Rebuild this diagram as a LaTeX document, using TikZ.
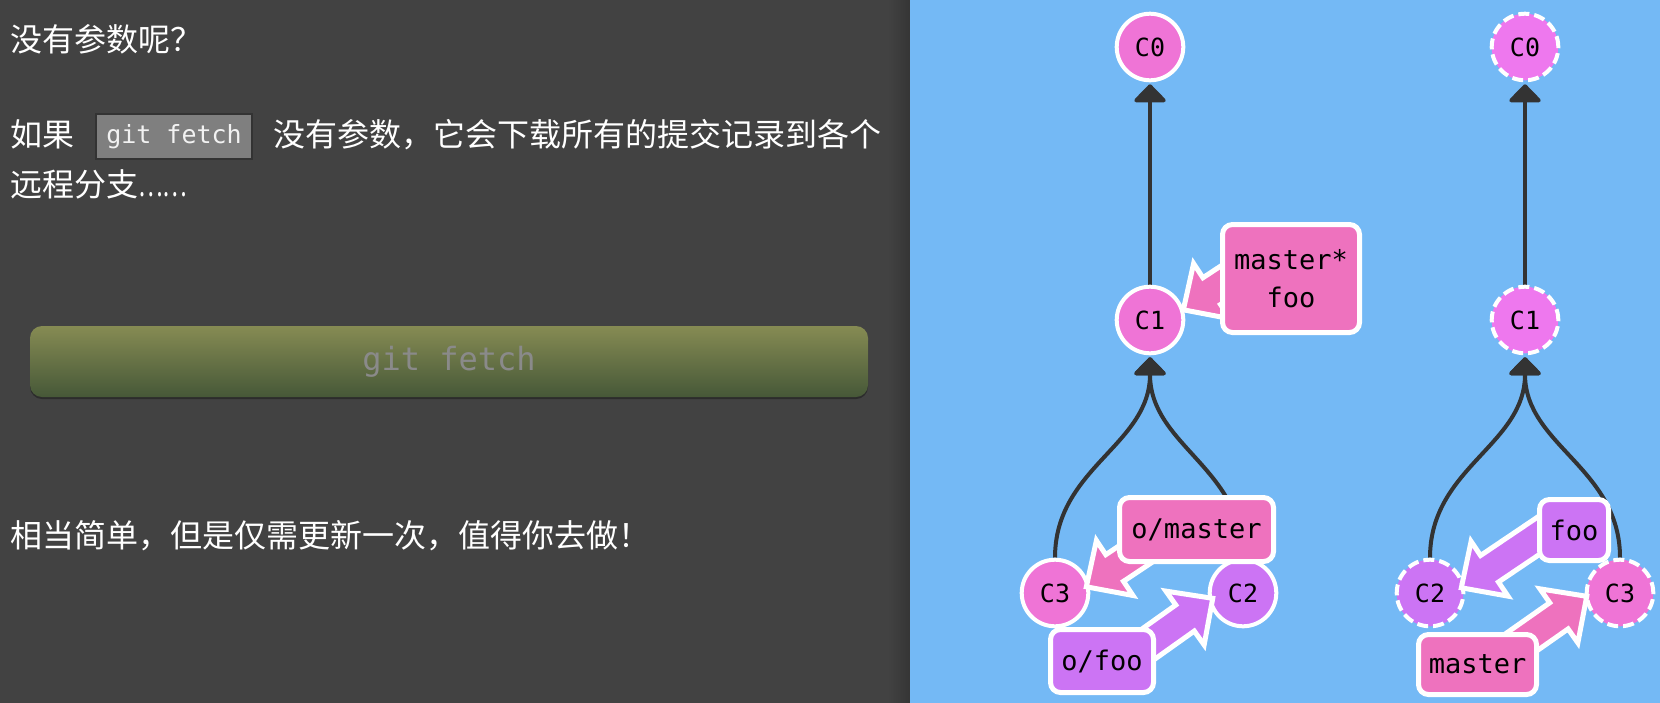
\documentclass[tikz,border=0pt]{standalone}
\usepackage{graphicx}
\usepackage{fontspec}
\setmainfont{Noto Sans CJK SC}
\newfontfamily\monofont{DejaVu Sans Mono}
\usetikzlibrary{calc,arrows.meta}
\definecolor{darkbg}{HTML}{424242}
\definecolor{darkedge}{HTML}{353535}
\definecolor{bluebg}{HTML}{74B9F5}
\definecolor{cpink}{HTML}{EF74D6}
\definecolor{cviolet}{HTML}{EE78EE}
\definecolor{bpink}{HTML}{EE72BE}
\definecolor{cpurple}{HTML}{CC74F4}
\definecolor{edgec}{HTML}{333333}
\definecolor{codefill}{HTML}{7F7F7F}
\definecolor{btntop}{HTML}{868B53}
\definecolor{btnbot}{HTML}{465838}
\definecolor{btntext}{HTML}{8A8A8A}
\definecolor{btnshadow}{HTML}{2C2C2C}
\pgfdeclarelayer{edgelayer}
\pgfdeclarelayer{arrowlayer}
\pgfdeclarelayer{frontlayer}
\pgfsetlayers{edgelayer,main,arrowlayer,frontlayer}
\tikzset{
  cntext/.style={anchor=base west, inner sep=0pt, text=white, font=\fontsize{32}{38}\selectfont},
  codebox/.style={fill=codefill, draw=edgec, line width=2pt, minimum width=156pt, minimum height=45pt, inner sep=0pt, text=white!95!black, font=\monofont\fontsize{25}{25}\selectfont},
  button/.style={rounded corners=12pt, top color=btntop, bottom color=btnbot, minimum width=838pt, minimum height=71pt, inner sep=0pt, text=btntext, font=\monofont\fontsize{32}{32}\selectfont},
  commit/.style={circle, draw=white, line width=4pt, inner sep=0pt, minimum size=66.6pt, text=black, font=\monofont\fontsize{25}{25}\selectfont},
  dashedcommit/.style={commit, dash pattern=on 11pt off 5pt},
  branch/.style={rectangle, rounded corners=10pt, draw=white, line width=5pt, inner sep=0pt, align=center, text=black, font=\monofont\fontsize{27}{38}\selectfont},
  edge/.style={draw=edgec, line width=4pt, shorten >=2pt, -{Triangle[width=36pt,length=19pt,round]}},
  barrow/.style={draw=white, line width=5pt, line join=miter},
}
\newcommand\blockarrow[3]{%
  \coordinate (ba-t) at ($(#2)!4pt!(#1)$);
  \coordinate (ba-b) at ($(ba-t)!34pt!(#1)$);
  \filldraw[barrow, fill=#3] (ba-t)
    -- ($(ba-b)!33pt!90:(ba-t)$) -- ($(ba-b)!16pt!90:(ba-t)$)
    -- ($(#1)!16pt!90:(ba-t)$) -- ($(#1)!16pt!-90:(ba-t)$)
    -- ($(ba-b)!16pt!-90:(ba-t)$) -- ($(ba-b)!33pt!-90:(ba-t)$) -- cycle;}
\begin{document}
\begin{tikzpicture}[x=1pt,y=-1pt]
\useasboundingbox (0,0) rectangle (1660,702);
\begin{pgfonlayer}{edgelayer}
  \fill[darkbg] (-2,-2) rectangle (910,704);
  \shade[left color=darkbg, right color=darkedge] (888,-4) rectangle (910,706);
  \fill[bluebg] (910,-2) rectangle (1662,704);
  \fill[btnshadow, rounded corners=12pt] (30,329) rectangle (868,399);
\end{pgfonlayer}

% left panel texts
\node[cntext] (t1) at (10,51) {没有参数呢？};
\node[cntext] (t2a) at (10,146) {如果};
\node[codebox] (code) at (174,136.5) {git fetch};
\node[cntext] (t2b) at (273,146) {没有参数，它会下载所有的提交记录到各个};
\node[cntext] (t3) at (10,196) {远程分支\scalebox{0.73}[1]{……}};
\node[cntext] (t4) at (10,547) {相当简单，但是仅需更新一次，值得你去做！};
\node[button] (btn) at (449,361.5) {git fetch};

% left tree commits
\node[commit, fill=cpink] (C0L) at (1150,47) {C0};
\node[commit, fill=cpink] (C1L) at (1150,320) {C1};
\node[commit, fill=cpink] (C3L) at (1055,593) {C3};
\node[commit, fill=cpurple] (C2L) at (1243,593) {C2};
% right tree commits
\node[dashedcommit, fill=cviolet] (C0R) at (1525,47) {C0};
\node[dashedcommit, fill=cviolet] (C1R) at (1525,320) {C1};
\node[dashedcommit, fill=cpurple] (C2R) at (1430,593) {C2};
\node[dashedcommit, fill=cpink] (C3R) at (1620,593) {C3};

\begin{pgfonlayer}{edgelayer}
  \draw[edge] (C1L) -- (C0L);
  \draw[edge] (C3L.north) .. controls +(0,-90) and +(0,90) .. (C1L.south);
  \draw[edge] (C2L.north) .. controls +(0,-90) and +(0,90) .. (C1L.south);
  \draw[edge] (C1R) -- (C0R);
  \draw[edge] (C2R.north) .. controls +(0,-90) and +(0,90) .. (C1R.south);
  \draw[edge] (C3R.north) .. controls +(0,-90) and +(0,90) .. (C1R.south);
\end{pgfonlayer}

\begin{pgfonlayer}{frontlayer}
  \node[branch, fill=bpink, minimum width=137pt, minimum height=108pt] (mf) at (1291,278.5) {master*\\foo};
  \node[branch, fill=bpink, minimum width=154pt, minimum height=64pt] (om) at (1196.5,529.5) {o/master};
  \node[branch, fill=cpurple, minimum width=103pt, minimum height=63pt] (of) at (1102,661) {o/foo};
  \node[branch, fill=cpurple, minimum width=69pt, minimum height=61pt] (fooR) at (1574,530) {foo};
  \node[branch, fill=bpink, minimum width=118pt, minimum height=60pt] (mR) at (1477.5,664.5) {master};
\end{pgfonlayer}

\begin{pgfonlayer}{arrowlayer}
  \coordinate (mfTail) at ($(mf.center)+(-51,-6)$);
  \coordinate (mfTip) at ($(C1L.center)+(30,-8)$);
  \blockarrow{mfTail}{mfTip}{bpink}
  \coordinate (omTail) at ($(om.center)+(-51,18)$);
  \coordinate (omTip) at ($(C3L.center)+(28,-4)$);
  \blockarrow{omTail}{omTip}{bpink}
  \coordinate (ofTail) at ($(of.center)+(38,-11)$);
  \coordinate (ofTip) at ($(C2L.center)+(-27,3)$);
  \blockarrow{ofTail}{ofTip}{cpurple}
  \coordinate (fooTail) at ($(fooR.center)+(-24,-2)$);
  \coordinate (fooTip) at ($(C2R.center)+(28,-3)$);
  \blockarrow{fooTail}{fooTip}{cpurple}
  \coordinate (mRTail) at ($(mR.center)+(32,-14)$);
  \coordinate (mRTip) at ($(C3R.center)+(-30,1)$);
  \blockarrow{mRTail}{mRTip}{bpink}
\end{pgfonlayer}
\end{tikzpicture}
\end{document}
